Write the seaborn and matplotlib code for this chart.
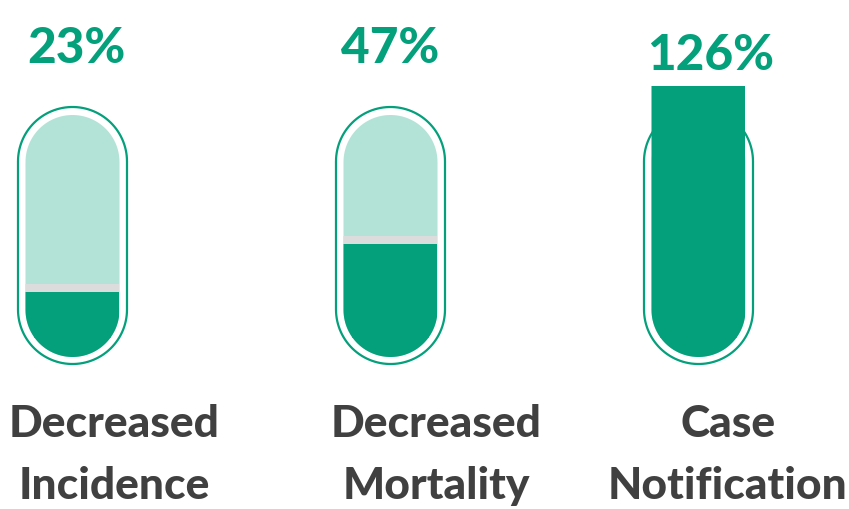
import numpy as np
import matplotlib
matplotlib.use("Agg")
import matplotlib.pyplot as plt
from matplotlib.patches import Polygon, Rectangle
import seaborn as sns

# ---- data ----
categories = ["Decreased\nIncidence", "Decreased\nMortality", "Case\nNotification"]
values = [23, 47, 126]
value_labels = ["23%", "47%", "126%"]

# ---- layout (pixel-based x, percent-based y) ----
xpos = [72.5, 390.5, 698.5]          # capsule centres (px)
label_x = [114, 436, 728]
pct_x = [76, 390, 711]
pct_y = [145.5, 145.5, 142]
GREEN = "#03a07b"
LIGHT = "#b3e3d6"
GRAY = "#dcdcdc"
TEXT = "#404040"

INNER_HW = 47.0      # inner half width (px)
INNER_BOT, INNER_TOP = -9.5, 111.5
OUT_HW = 54.5
OUT_BOT, OUT_TOP = -13.0, 115.5
YPX = 2.0            # px per y unit

sns.set_theme(style="white")
FONT = ['Lato', 'DejaVu Sans']
plt.rcParams['font.family'] = FONT

fig = plt.figure(figsize=(8.49, 5.10), dpi=100)
ax = fig.add_axes([0, 0, 1, 1])
ax.set_xlim(0, 849)
ax.set_ylim((339 - 510) / YPX, 339 / YPX)


def capsule(cx, hw, ybot, ytop, n=60):
    ry = hw / YPX
    t = np.linspace(np.pi, 2 * np.pi, n)
    bot = np.column_stack([cx + hw * np.cos(t), ybot + ry + ry * np.sin(t)])
    t2 = np.linspace(0, np.pi, n)
    top = np.column_stack([cx + hw * np.cos(t2), ytop - ry + ry * np.sin(t2)])
    return np.vstack([bot, top])


def round_bottom(cx, hw, ybot, ytop=400, n=60):
    ry = hw / YPX
    t = np.linspace(np.pi, 2 * np.pi, n)
    bot = np.column_stack([cx + hw * np.cos(t), ybot + ry + ry * np.sin(t)])
    return np.vstack([bot, [[cx + hw, ytop], [cx - hw, ytop]]])


clips_inner = []
clips_round = []
for cx in xpos:
    ax.add_patch(Polygon(capsule(cx, OUT_HW, OUT_BOT, OUT_TOP), closed=True,
                         facecolor="white", edgecolor=GREEN, lw=1.6, zorder=1))
    inner = Polygon(capsule(cx, INNER_HW, INNER_BOT, INNER_TOP), closed=True,
                    facecolor=LIGHT, edgecolor="none", zorder=2)
    ax.add_patch(inner)
    clips_inner.append(inner)
    rb = Polygon(round_bottom(cx, INNER_HW, INNER_BOT), closed=True,
                 facecolor="none", edgecolor="none", transform=ax.transData)
    clips_round.append(rb)

for i, (cx, v) in enumerate(zip(xpos, values)):
    r = Rectangle((cx - INNER_HW, v), 2 * INNER_HW, 4, facecolor=GRAY,
                  edgecolor="none", zorder=3)
    ax.add_patch(r)
    r.set_clip_path(clips_inner[i])
    b = Rectangle((cx - INNER_HW, INNER_BOT - 1), 2 * INNER_HW, -INNER_BOT + 1.5,
                  facecolor=GREEN, edgecolor="none", zorder=4)
    ax.add_patch(b)
    b.set_clip_path(clips_round[i])

n_before = len(ax.patches)
width = 2 * INNER_HW / min(np.diff(sorted(xpos)))
sns.barplot(x=xpos, y=values, native_scale=True, width=width, color=GREEN,
            saturation=1, errorbar=None, ax=ax, zorder=4, linewidth=0)
bars = ax.patches[n_before:]
for bar, clip in zip(bars, clips_round):
    bar.set_clip_path(clip)
    bar.set_zorder(4)

renderer = fig.canvas.get_renderer()


def fit_size(text, target_px, base=30, weight="black"):
    t = fig.text(0, 0, text, fontsize=base, fontweight=weight)
    w = t.get_window_extent(renderer).width
    t.remove()
    return base * target_px / w


pct_size = fit_size("23%", 98)
lab_size = min(fit_size("Decreased", 219), fit_size("Notification", 239))

for x, y, t in zip(pct_x, pct_y, value_labels):
    ax.text(x, y, t, ha="center", va="center", color=GREEN, fontsize=pct_size,
            fontweight="black")

for x, lab in zip(label_x, categories):
    l1, l2 = lab.split("\n")
    ax.text(x, (339 - 424) / YPX, l1, ha="center", va="center", color=TEXT,
            fontsize=lab_size, fontweight="black")
    ax.text(x, (339 - 486) / YPX, l2, ha="center", va="center", color=TEXT,
            fontsize=lab_size, fontweight="black")

ax.set_xlim(0, 849)
ax.set_ylim((339 - 510) / YPX, 339 / YPX)
ax.set_axis_off()
fig.savefig("out.png", dpi=100, facecolor="white")
